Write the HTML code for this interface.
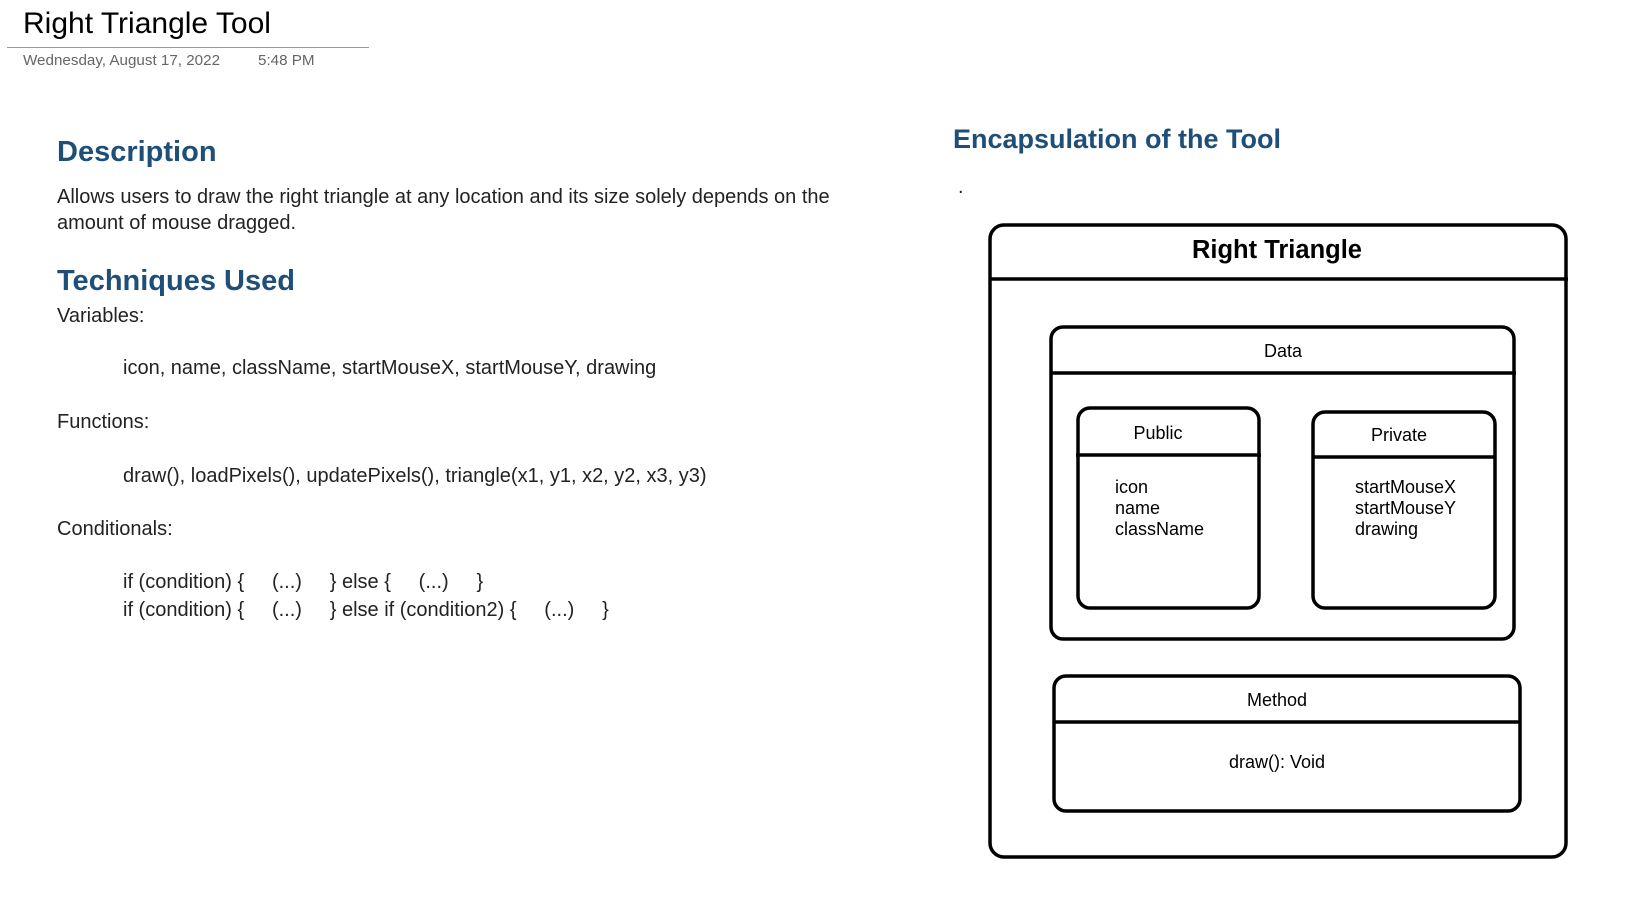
<!DOCTYPE html>
<html><head><meta charset="utf-8"><style>
body{margin:0;width:1642px;height:902px;background:#fff;position:relative;overflow:hidden;font-family:"Liberation Sans",Arial,sans-serif;}
.a{position:absolute;white-space:nowrap;}
.h{color:#1f4e79;font-weight:bold;font-size:29px;}
.t{font-size:20px;color:#222;}
</style></head><body>
<div class="a" style="left:23px;top:7px;font-size:30px;color:#000;">Right Triangle Tool</div>
<div class="a" style="left:7px;top:47px;width:362px;height:1px;background:#999;"></div>
<div class="a" style="left:23px;top:52px;font-size:15.2px;color:#666;">Wednesday, August 17, 2022</div>
<div class="a" style="left:258px;top:52px;font-size:15.2px;color:#666;">5:48 PM</div>

<div class="a h" style="left:57px;top:136px;">Description</div>
<div class="a t" style="left:57px;top:186px;">Allows users to draw the right triangle at any location and its size solely depends on the</div>
<div class="a t" style="left:57px;top:212px;">amount of mouse dragged.</div>
<div class="a h" style="left:57px;top:265px;">Techniques Used</div>
<div class="a t" style="left:57px;top:305px;">Variables:</div>
<div class="a t" style="left:123px;top:357px;">icon, name, className, startMouseX, startMouseY, drawing</div>
<div class="a t" style="left:57px;top:411px;">Functions:</div>
<div class="a t" style="left:123px;top:465px;">draw(), loadPixels(), updatePixels(), triangle(x1, y1, x2, y2, x3, y3)</div>
<div class="a t" style="left:57px;top:518px;">Conditionals:</div>
<div class="a t" style="left:123px;top:571px;white-space:pre;">if (condition) {     (...)     } else {     (...)     }</div>
<div class="a t" style="left:123px;top:599px;white-space:pre;">if (condition) {     (...)     } else if (condition2) {     (...)     }</div>

<div class="a h" style="left:953px;top:124px;font-size:27px;">Encapsulation of the Tool</div>
<div class="a t" style="left:958px;top:176px;">.</div>

<svg class="a" style="left:0;top:0" width="1642" height="902">
<g fill="none" stroke="#000" stroke-width="3.5">
<rect x="990" y="225" width="576" height="632" rx="14"/>
<line x1="990" y1="279" x2="1568" y2="279"/>
<rect x="1051" y="327" width="463" height="312" rx="12"/>
<line x1="1051" y1="373" x2="1516" y2="373"/>
<rect x="1078" y="408" width="181" height="200" rx="12"/>
<line x1="1076" y1="455" x2="1261" y2="455"/>
<rect x="1313" y="412" width="182" height="196" rx="12"/>
<line x1="1313" y1="457" x2="1495" y2="457"/>
<rect x="1054" y="676" width="466" height="135" rx="12"/>
<line x1="1054" y1="722" x2="1520" y2="722"/>
</g>
<g font-family="Liberation Sans, Arial, sans-serif" fill="#000" font-size="18">
<text x="1277" y="258" text-anchor="middle" font-size="25.5" font-weight="bold">Right Triangle</text>
<text x="1283" y="357" text-anchor="middle">Data</text>
<text x="1158" y="439" text-anchor="middle">Public</text>
<text x="1399" y="441" text-anchor="middle">Private</text>
<text x="1115" y="493">icon</text>
<text x="1115" y="514">name</text>
<text x="1115" y="535">className</text>
<text x="1355" y="493">startMouseX</text>
<text x="1355" y="514">startMouseY</text>
<text x="1355" y="535">drawing</text>
<text x="1277" y="706" text-anchor="middle">Method</text>
<text x="1277" y="768" text-anchor="middle">draw(): Void</text>
</g>
</svg>
</body></html>
